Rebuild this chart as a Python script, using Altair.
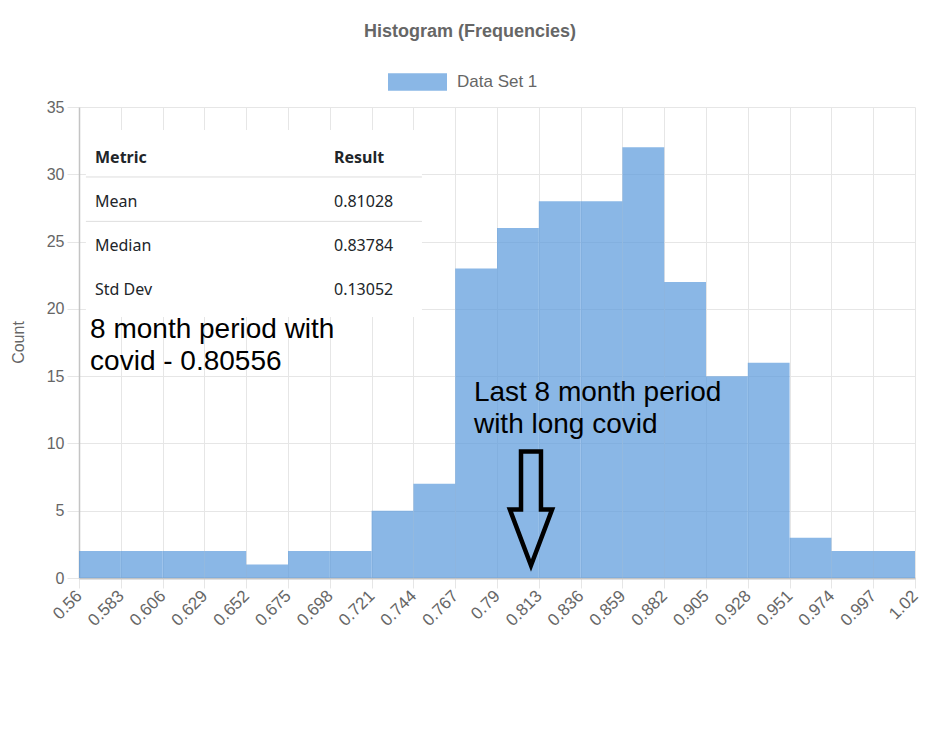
import altair as alt
import pandas as pd

# ---- data ----
bin_edges = [0.56, 0.583, 0.606, 0.629, 0.652, 0.675, 0.698, 0.721, 0.744, 0.767,
             0.79, 0.813, 0.836, 0.859, 0.882, 0.905, 0.928, 0.951, 0.974, 0.997, 1.02]
counts = [2, 2, 2, 2, 1, 2, 2, 5, 7, 23, 26, 28, 28, 32, 22, 15, 16, 3, 2, 2]
series_name = "Data Set 1"
y_ticks = [0, 5, 10, 15, 20, 25, 30, 35]

table_header = ["Metric", "Result"]
table_metrics = ["Mean", "Median", "Std Dev"]
table_results = ["0.81028", "0.83784", "0.13052"]

note_left = "8 month period with\ncovid - 0.80556"
note_right = "Last 8 month period\nwith long covid"
arrow_value = 0.8087

# ---- styling ----
FONT = "Liberation Sans"
TABLE_FONT = "Noto Sans"
GREY = "#666666"
GRID = "#e6e6e6"
BAR = "#5899db"

xscale = alt.Scale(domain=[bin_edges[0], bin_edges[-1]], nice=False, zero=False)
yscale = alt.Scale(domain=[y_ticks[0], y_ticks[-1]], nice=False)

xaxis = alt.Axis(values=bin_edges, format=".3~f", labelAngle=-45, labelAlign="right",
                 labelBaseline="middle", labelFont=FONT, labelFontSize=17, labelColor=GREY,
                 labelPadding=5, tickSize=10, tickColor=GRID, gridColor=GRID,
                 domainColor="#c4c4c4", domainWidth=2, title=None, labelOverlap=False,
                 labelFlush=False, labelBound=False)
yaxis = alt.Axis(values=y_ticks, labelFont=FONT, labelFontSize=16, labelColor=GREY,
                 labelPadding=3, tickSize=12, tickColor=GRID, gridColor=GRID,
                 domainColor="#c4c4c4", domainWidth=1.5, title="Count",
                 labelFlush=False, labelOverlap=False,
                 titleFont=FONT, titleFontSize=16, titleFontWeight="normal",
                 titleColor=GREY, titleX=-61, titleY=235, titleBaseline="middle")


def X(field):
    return alt.X(field, type="quantitative", scale=xscale, axis=xaxis)


def Y(field):
    return alt.Y(field, type="quantitative", scale=yscale, axis=yaxis)


bars_df = pd.DataFrame({
    "x": bin_edges[:-1],
    "x2": bin_edges[1:],
    "y": counts,
    "series": [series_name] * len(counts),
})

bars = alt.Chart(bars_df).mark_rect(opacity=0.7, strokeWidth=0).encode(
    x=X("x"),
    x2="x2",
    y=Y("y"),
    y2=alt.datum(0),
    color=alt.Color("series:N", scale=alt.Scale(range=[BAR]),
                    legend=alt.Legend(title=None, orient="none", legendX=309, legendY=-54.5,
                                      symbolType="M -1 -0.3 L 1 -0.3 L 1 0.3 L -1 0.3 Z",
                                      symbolSize=3481, symbolOpacity=0.7,
                                      symbolStrokeWidth=0, labelFont=FONT,
                                      labelFontSize=17, labelColor=GREY, labelOffset=10,
                                      padding=0)),
)

# ---- statistics table overlay (positions in data units) ----
box_df = pd.DataFrame({"x": [0.5638], "x2": [0.7487], "y": [19.4], "y2": [33.3]})
box = alt.Chart(box_df).mark_rect(color="white").encode(x=X("x"), x2="x2", y=Y("y"), y2="y2")

sep_df = pd.DataFrame({"x": [0.5638, 0.5638], "x2": [0.7487, 0.7487], "y": [29.8, 26.5]})
seps = alt.Chart(sep_df).mark_rule(color="#dedede", strokeWidth=1).encode(
    x=X("x"), x2="x2", y=Y("y"))

head_df = pd.DataFrame({"x": [0.5688, 0.7003], "y": [31.2, 31.2], "t": table_header})
head = alt.Chart(head_df).mark_text(align="left", baseline="middle", font=TABLE_FONT,
                                    fontSize=16, fontWeight="bold", color="#212529").encode(
    x=X("x"), y=Y("y"), text="t:N")

rows_y = [27.97, 24.7, 21.42]
rows_df = pd.DataFrame({
    "x": [0.5688] * 3 + [0.7003] * 3,
    "y": rows_y + rows_y,
    "t": table_metrics + table_results,
})
rows = alt.Chart(rows_df).mark_text(align="left", baseline="middle", font=TABLE_FONT,
                                    fontSize=16, color="#212529").encode(
    x=X("x"), y=Y("y"), text="t:N")

# ---- notes ----
notes_df = pd.DataFrame({"x": [0.5661, 0.7773], "y": [18.43, 13.75],
                         "t": [note_left, note_right]})
notes = alt.Chart(notes_df).mark_text(align="left", baseline="middle", font=FONT,
                                      fontSize=28, lineHeight=32, lineBreak="\n",
                                      color="black").encode(
    x=X("x"), y=Y("y"), text="t:N")

arrow_df = pd.DataFrame({"x": [arrow_value], "y": [5.17]})
arrow = alt.Chart(arrow_df).mark_point(
    shape="M -0.175 -1 L 0.175 -1 L 0.175 0.02 L 0.37 0.02 L 0 1 L -0.37 0.02 L -0.175 0.02 Z",
    filled=False, color="black", strokeWidth=4.5, size=12996, opacity=1, strokeJoin="miter",
).encode(x=X("x"), y=Y("y"))

chart = alt.layer(bars, box, seps, head, rows, notes, arrow).properties(
    width=836,
    height=471,
    autosize=alt.AutoSizeParams(type="none"),
    padding={"left": 71, "top": 99, "right": 16, "bottom": 160},
    background="white",
    title=alt.TitleParams("Histogram (Frequencies)", font=FONT, fontSize=18,
                          fontWeight="bold", color=GREY, anchor="middle", dx=-27,
                          dy=17, offset=14.5, baseline="alphabetic"),
).configure_view(stroke=None)

chart.save("out.html", embed_options={"renderer": "svg", "actions": False})
